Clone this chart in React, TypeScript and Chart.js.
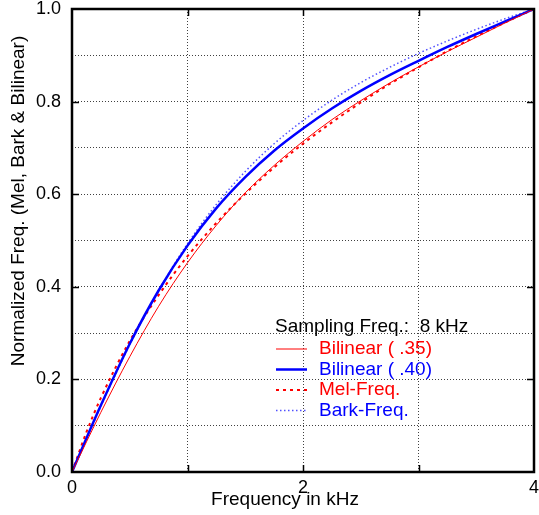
import { useEffect, useRef } from 'react';
import { Chart, registerables } from 'chart.js';

Chart.register(...registerables);

// ---- data ----
const freqKHz = [0, 0.125, 0.25, 0.5, 0.75, 1, 1.25, 1.5, 1.75, 2, 2.25, 2.5, 2.75, 3, 3.25, 3.5, 3.75, 4];
const bilinear35 = [0, 0.065, 0.129, 0.249, 0.358, 0.452, 0.533, 0.603, 0.662, 0.714, 0.761, 0.802, 0.840, 0.875, 0.908, 0.939, 0.970, 1];
const bilinear40 = [0, 0.073, 0.144, 0.277, 0.392, 0.489, 0.570, 0.637, 0.694, 0.742, 0.785, 0.823, 0.857, 0.888, 0.918, 0.946, 0.973, 1];
const melFreq = [0, 0.086, 0.160, 0.283, 0.382, 0.466, 0.538, 0.601, 0.658, 0.709, 0.755, 0.798, 0.838, 0.874, 0.909, 0.941, 0.971, 1];
const barkFreq = [0, 0.071, 0.142, 0.275, 0.392, 0.493, 0.578, 0.649, 0.709, 0.759, 0.803, 0.841, 0.874, 0.904, 0.931, 0.956, 0.979, 1];

const seriesLabels = ['Bilinear ( .35)', 'Bilinear ( .40)', 'Mel-Freq.', 'Bark-Freq.'];
const legendTitle = 'Sampling Freq.:  8 kHz';
const xTitle = 'Frequency in kHz';
const yTitle = 'Normalized Freq. (Mel, Bark & Bilinear)';
const xLabeledTicks = [0, 2, 4];
const yLabeledTicks = [0, 0.2, 0.4, 0.6, 0.8, 1.0];

const FONT = '"Liberation Sans", Arial, Helvetica, sans-serif';
const RED = '#ff0000';
const BLUE = '#0000ff';

const toPoints = (ys: number[]) => freqKHz.map((x, i) => ({ x, y: ys[i] }));

const overlayPlugin = {
  id: 'overlay',
  afterDatasetsDraw(chart: any) {
    const { ctx, chartArea: a, scales } = chart;
    const xs = scales.x;
    const ys = scales.y;
    ctx.save();

    // frame
    ctx.setLineDash([]);
    ctx.strokeStyle = '#000';
    ctx.lineWidth = 2.5;
    ctx.strokeRect(a.left, a.top, a.right - a.left, a.bottom - a.top);

    // inward tick marks on all four sides
    ctx.lineWidth = 1.5;
    ctx.beginPath();
    const tl = 7;
    xs.ticks.forEach((t: any) => {
      const px = Math.round(xs.getPixelForValue(t.value)) + 0.5;
      if (px <= a.left + 2 || px >= a.right - 2) return;
      ctx.moveTo(px, a.bottom);
      ctx.lineTo(px, a.bottom - tl);
      ctx.moveTo(px, a.top);
      ctx.lineTo(px, a.top + tl);
    });
    yLabeledTicks.forEach((v) => {
      const py = Math.round(ys.getPixelForValue(v)) + 0.5;
      if (py <= a.top + 2 || py >= a.bottom - 2) return;
      ctx.moveTo(a.left, py);
      ctx.lineTo(a.left + tl, py);
      ctx.moveTo(a.right, py);
      ctx.lineTo(a.right - tl, py);
    });
    ctx.stroke();

    // legend inside the plot
    ctx.font = `19px ${FONT}`;
    ctx.textBaseline = 'middle';
    ctx.textAlign = 'left';
    const lx = a.left + 203;
    ctx.fillStyle = '#000';
    ctx.fillText(legendTitle, lx, a.top + 318);
    chart.data.datasets.forEach((ds: any, i: number) => {
      const cy = a.top + 340 + i * 20.5;
      ctx.strokeStyle = ds.borderColor;
      ctx.lineWidth = ds.borderWidth;
      ctx.setLineDash(ds.borderDash || []);
      ctx.beginPath();
      ctx.moveTo(lx + 1, cy);
      ctx.lineTo(lx + 32, cy);
      ctx.stroke();
      ctx.setLineDash([]);
      ctx.fillStyle = ds.labelColor;
      ctx.fillText(ds.label, lx + 44, cy);
    });

    // axis titles
    ctx.fillStyle = '#000';
    ctx.font = `19px ${FONT}`;
    ctx.textAlign = 'center';
    ctx.textBaseline = 'middle';
    ctx.fillText(xs.options.title.text, a.left + 213, a.bottom + 28);
    ctx.translate(19, a.top + 192);
    ctx.rotate(-Math.PI / 2);
    ctx.fillText(ys.options.title.text, 0, 0);
    ctx.restore();
  },
};

export default function App() {
  const canvasRef = useRef<HTMLCanvasElement | null>(null);

  useEffect(() => {
    if (!canvasRef.current) return;
    Chart.defaults.font.family = FONT;
    const gridColor = 'rgba(0,0,0,0.75)';
    const chart = new Chart(canvasRef.current, {
      type: 'line',
      data: {
        datasets: [
          {
            label: seriesLabels[0],
            data: toPoints(bilinear35),
            borderColor: RED,
            labelColor: RED,
            borderWidth: 1,
            cubicInterpolationMode: 'monotone',
          },
          {
            label: seriesLabels[1],
            data: toPoints(bilinear40),
            borderColor: BLUE,
            labelColor: BLUE,
            borderWidth: 2.5,
            cubicInterpolationMode: 'monotone',
          },
          {
            label: seriesLabels[2],
            data: toPoints(melFreq),
            borderColor: RED,
            labelColor: RED,
            borderWidth: 2,
            borderDash: [3, 4],
            cubicInterpolationMode: 'monotone',
          },
          {
            label: seriesLabels[3],
            data: toPoints(barkFreq),
            borderColor: '#5050ff',
            labelColor: BLUE,
            borderWidth: 1.5,
            borderDash: [1.5, 2.5],
            cubicInterpolationMode: 'monotone',
          },
        ] as any,
      },
      options: {
        animation: false,
        responsive: true,
        maintainAspectRatio: false,
        layout: { padding: { top: 9, right: 5, bottom: 0, left: 0 } },
        elements: { point: { radius: 0 } },
        plugins: { legend: { display: false }, tooltip: { enabled: false } },
        scales: {
          x: {
            type: 'linear',
            min: 0,
            max: 4,
            ticks: {
              stepSize: 1,
              autoSkip: false,
              maxRotation: 0,
              color: '#000',
              font: { size: 18 },
              padding: 5,
              callback: (v: any) => (xLabeledTicks.includes(Number(v)) ? String(v) : ''),
            },
            grid: { color: gridColor, lineWidth: 1, drawTicks: false },
            border: { display: false, dash: [1, 2] },
            title: { display: false, text: xTitle },
            afterFit: (s: any) => {
              s.height = 43;
              s.paddingLeft = 0;
              s.paddingRight = 0;
            },
          },
          y: {
            type: 'linear',
            min: 0,
            max: 1,
            ticks: {
              stepSize: 0.1,
              autoSkip: false,
              color: '#000',
              font: { size: 18 },
              padding: 11,
              callback: (v: any) => {
                const n = Math.round(Number(v) * 10);
                return n % 2 === 0 ? (n / 10).toFixed(1) : '';
              },
            },
            grid: { color: gridColor, lineWidth: 1, drawTicks: false },
            border: { display: false, dash: [1, 2] },
            title: { display: false, text: yTitle },
            afterFit: (s: any) => {
              s.width = 72;
              s.paddingTop = 0;
              s.paddingBottom = 0;
            },
          },
        },
      } as any,
      plugins: [overlayPlugin],
    });
    return () => chart.destroy();
  }, []);

  return (
    <div style={{ position: 'absolute', left: 0, top: 0, width: 539, height: 515, background: '#fff' }}>
      <canvas ref={canvasRef} />
    </div>
  );
}
